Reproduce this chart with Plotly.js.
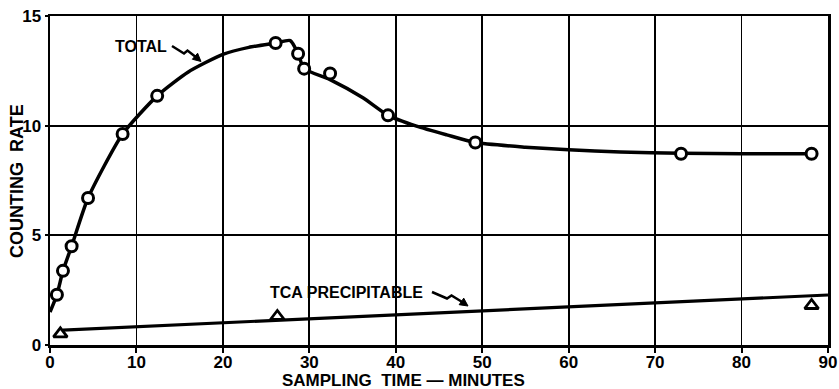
<!DOCTYPE html>
<html>
<head>
<meta charset="utf-8">
<script src="https://cdn.plot.ly/plotly-3.0.1.min.js"></script>
<style>html,body{margin:0;padding:0;background:#fff;}#chart{width:839px;height:389px;}</style>
</head>
<body>
<div id="chart"></div>
<script>
// Measured points: TOTAL counting rate (circles)
const totalX = [0.8, 1.5, 2.5, 4.4, 8.4, 12.4, 26.1, 28.7, 29.4, 32.4, 39.1, 49.2, 73.0, 88.1];
const totalY = [2.29, 3.38, 4.5, 6.7, 9.62, 11.36, 13.77, 13.28, 12.6, 12.38, 10.47, 9.23, 8.72, 8.72];

// Drawn smooth curve through TOTAL
const curveX = [0, 0.8, 1.5, 2.5, 4.4, 8.4, 12.4, 16, 20, 23, 26.1, 27.8, 28.7, 29.4, 32.4, 36.2, 39.1, 42.4, 45.9, 49.2, 55, 60, 66, 73.0, 80, 88.1];
const curveY = [1.5, 2.29, 3.38, 4.5, 6.7, 9.62, 11.36, 12.45, 13.25, 13.57, 13.77, 13.88, 13.28, 12.6, 12.1, 11.27, 10.47, 9.98, 9.58, 9.23, 9.02, 8.9, 8.8, 8.74, 8.72, 8.72];

// TCA precipitable measured points (triangles)
const tcaX = [1.2, 26.3, 88.1];
const tcaY = [0.51, 1.3, 1.8];

// TCA fitted straight line
const tcaLineX = [1.5, 90];
const tcaLineY = [0.68, 2.28];

// Axis ticks
const xTicks = [0, 10, 20, 30, 40, 50, 60, 70, 80, 90];
const yTicks = [0, 5, 10, 15];

// ---- helpers for annotation geometry (pixel -> data) ----
const L = 50, R = 828, T = 16, B = 345;
function X(px){ return (px - L) / (R - L) * 90; }
function Y(py){ return (B - py) / (B - T) * 15; }
function poly(pts){ return 'M ' + pts.map(p => X(p[0]).toFixed(3) + ',' + Y(p[1]).toFixed(3)).join(' L '); }
function head(tip, from, len, half){
  const dx = tip[0]-from[0], dy = tip[1]-from[1];
  const d = Math.hypot(dx, dy), ux = dx/d, uy = dy/d;
  const bx = tip[0]-ux*len, by = tip[1]-uy*len;
  return poly([tip, [bx-uy*half, by+ux*half], [bx+uy*half, by-ux*half]]) + ' Z';
}

const FONT = 'Liberation Sans, Arial, Helvetica, sans-serif';

const totArrow = [[172,46],[184,53.5],[187.5,50.5],[197,58]];
const totTip = [201, 61.5];
const tcaArrow = [[432,292],[447,298.5],[451.5,295.5],[463,302.5]];
const tcaTip = [468, 306];

const shapes = [
  {type:'path', xref:'x', yref:'y', path: poly(totArrow.concat([[199,60]])), line:{color:'#000', width:2.5}},
  {type:'path', xref:'x', yref:'y', path: head(totTip, totArrow[3], 8, 4), fillcolor:'#000', line:{color:'#000', width:1}},
  {type:'path', xref:'x', yref:'y', path: poly(tcaArrow.concat([[466,304.5]])), line:{color:'#000', width:2.5}},
  {type:'path', xref:'x', yref:'y', path: head(tcaTip, tcaArrow[3], 8, 4), fillcolor:'#000', line:{color:'#000', width:1}}
];

const traces = [
  {x: curveX, y: curveY, mode:'lines', line:{color:'#000', width:3.5, shape:'spline', smoothing:0.6}, hoverinfo:'skip', showlegend:false},
  {x: tcaLineX, y: tcaLineY, mode:'lines', line:{color:'#000', width:3.2}, hoverinfo:'skip', showlegend:false},
  {x: totalX, y: totalY, mode:'markers', marker:{symbol:'circle', size:11, color:'#fff', line:{color:'#000', width:3}}, showlegend:false},
  {x: tcaX, y: tcaY, mode:'markers', marker:{symbol:'triangle-up', size:12, color:'#fff', line:{color:'#000', width:2.8}}, showlegend:false}
];

const layout = {
  width: 839, height: 389,
  margin: {l: L, r: 839 - R, t: T, b: 389 - B, pad: 0},
  paper_bgcolor: '#fff', plot_bgcolor: '#fff',
  showlegend: false,
  font: {family: FONT, color: '#000'},
  xaxis: {
    range: [0, 90], tickvals: xTicks, ticktext: xTicks.map(String),
    showgrid: true, gridcolor: '#000', gridwidth: 1.8,
    showline: true, linecolor: '#000', linewidth: 2.5, mirror: true,
    ticks: 'outside', ticklen: 5, tickwidth: 2, tickcolor: '#000',
    ticklabelstandoff: -5,
    zeroline: false,
    tickfont: {family: FONT, size: 17, weight: 'bold', color: '#000'}
  },
  yaxis: {
    range: [0, 15], tickvals: yTicks, ticktext: yTicks.map(String),
    showgrid: true, gridcolor: '#000', gridwidth: 1.8,
    showline: true, linecolor: '#000', linewidth: 2.5, mirror: true,
    ticks: 'outside', ticklen: 3, tickwidth: 2, tickcolor: '#000',
    zeroline: false,
    tickfont: {family: FONT, size: 17, weight: 'bold', color: '#000'}
  },
  shapes: shapes,
  annotations: [
    {text:'TOTAL', xref:'x', yref:'y', x: X(141), y: Y(46), showarrow:false, xanchor:'center', yanchor:'middle',
     font:{family: FONT, size: 16, weight:'bold', color:'#000'}},
    {text:'TCA PRECIPITABLE', xref:'x', yref:'y', x: X(346), y: Y(292), showarrow:false, xanchor:'center', yanchor:'middle',
     font:{family: FONT, size: 16, weight:'bold', color:'#000'}},
    {text:'SAMPLING  TIME — MINUTES', xref:'paper', yref:'paper', x: (403 - L)/(R - L), y: (B - 380)/(B - T), showarrow:false,
     xanchor:'center', yanchor:'middle', font:{family: FONT, size: 17, weight:'bold', color:'#000'}},
    {text:'COUNTING  RATE', xref:'paper', yref:'paper', x: (17 - L)/(R - L), y: (B - 181)/(B - T), showarrow:false,
     textangle: -90, xanchor:'center', yanchor:'middle', font:{family: FONT, size: 18, weight:'bold', color:'#000'}}
  ]
};

Plotly.newPlot('chart', traces, layout, {staticPlot: true, displayModeBar: false});
</script>
</body>
</html>
